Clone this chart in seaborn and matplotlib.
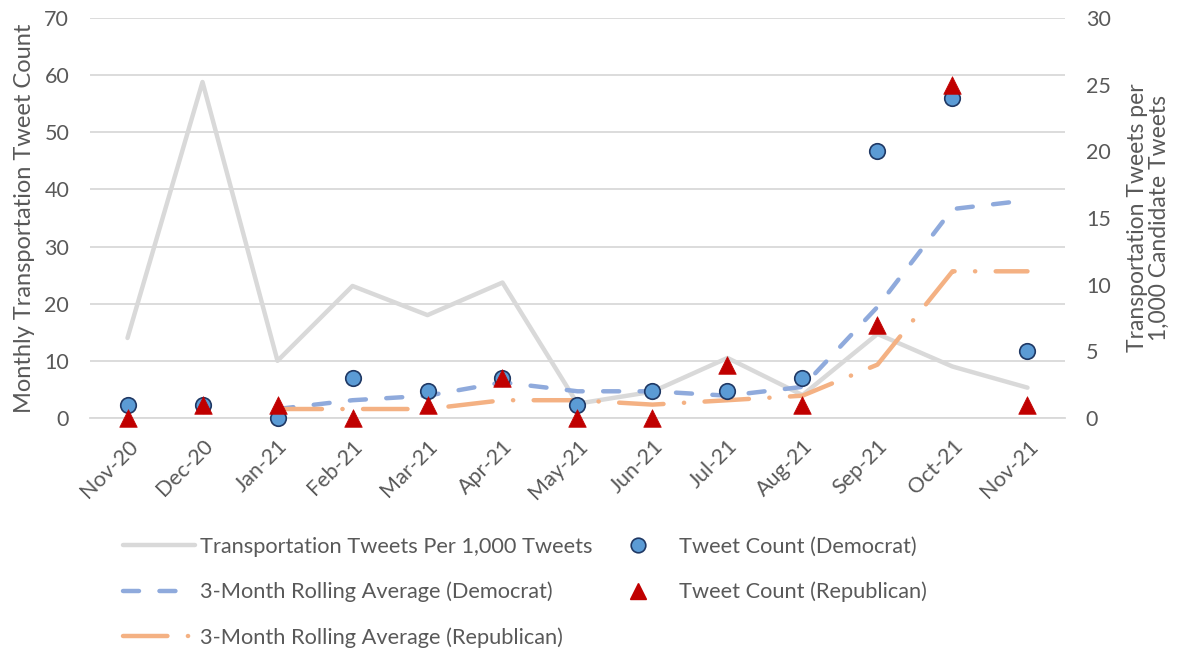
import numpy as np
import pandas as pd
import matplotlib
matplotlib.use("Agg")
import matplotlib.pyplot as plt
from matplotlib.lines import Line2D
import seaborn as sns

months = ["Nov-20", "Dec-20", "Jan-21", "Feb-21", "Mar-21", "Apr-21", "May-21",
          "Jun-21", "Jul-21", "Aug-21", "Sep-21", "Oct-21", "Nov-21"]

# Transportation tweets per 1,000 tweets (left axis)
per_thousand = [14.0, 58.8, 10.0, 23.1, 18.0, 23.7, 2.5, 4.6, 10.5, 4.0, 14.7, 9.0, 5.3]

# Monthly tweet counts by party (right axis)
dem_count = [1, 1, 0, 3, 2, 3, 1, 2, 2, 3, 20, 24, 5]
rep_count = [0, 1, 1, 0, 1, 3, 0, 0, 4, 1, 7, 25, 1]

# 3-month rolling averages (right axis)
dem_roll = [np.nan, np.nan, 0.67, 1.33, 1.67, 2.67, 2.0, 2.0, 1.67, 2.33, 8.33, 15.67, 16.33]
rep_roll = [np.nan, np.nan, 0.67, 0.67, 0.67, 1.33, 1.33, 1.0, 1.33, 1.67, 4.0, 11.0, 11.0]

left_ticks = [0, 10, 20, 30, 40, 50, 60, 70]
right_ticks = [0, 5, 10, 15, 20, 25, 30]

labels = ["Transportation Tweets Per 1,000 Tweets",
          "3-Month Rolling Average (Democrat)",
          "3-Month Rolling Average (Republican)",
          "Tweet Count (Democrat)",
          "Tweet Count (Republican)"]

GRAY = "#D9D9D9"
BLUE_DASH = "#8FAADC"
ORANGE_DASH = "#F4B183"
DEM_FILL = "#5B9BD5"
DEM_EDGE = "#1F3864"
REP_RED = "#C00000"
TEXT = "#595959"

sns.set_theme(style="white")
plt.rcParams["font.family"] = ["Lato", "DejaVu Sans"]
plt.rcParams["text.color"] = TEXT
plt.rcParams["axes.labelcolor"] = TEXT
plt.rcParams["xtick.color"] = TEXT
plt.rcParams["ytick.color"] = TEXT

pos = np.arange(len(months))
df = pd.DataFrame({
    "pos": pos, "per_thousand": per_thousand,
    "dem_count": dem_count, "rep_count": rep_count,
    "dem_roll": dem_roll, "rep_roll": rep_roll,
})

fig = plt.figure(figsize=(11.89, 6.5), dpi=100)
ax = fig.add_axes([0.0757, 0.357, 0.82, 0.6153])
ax2 = ax.twinx()

LW = 3.2
DEM_DASHES = (3.6, 4.6)
REP_DASHES = (10.0, 4.6, 0.05, 4.6)

sns.lineplot(data=df, x="pos", y="per_thousand", ax=ax, color=GRAY, lw=LW,
             solid_capstyle="round", solid_joinstyle="round", legend=False)

sns.lineplot(data=df, x="pos", y="dem_roll", ax=ax2, color=BLUE_DASH, lw=LW,
             dashes=False, legend=False)
sns.lineplot(data=df, x="pos", y="rep_roll", ax=ax2, color=ORANGE_DASH, lw=LW,
             dashes=False, legend=False)
dem_line, rep_line = ax2.lines[0], ax2.lines[1]
dem_line.set_dashes(DEM_DASHES)
dem_line.set_dash_capstyle("round")
rep_line.set_dashes(REP_DASHES)
rep_line.set_dash_capstyle("round")

sns.scatterplot(data=df, x="pos", y="dem_count", ax=ax2, marker="o", s=125,
                color=DEM_FILL, edgecolor=DEM_EDGE, linewidth=1.2, zorder=4,
                legend=False)
sns.scatterplot(data=df, x="pos", y="rep_count", ax=ax2, marker="^", s=160,
                color=REP_RED, edgecolor=REP_RED, linewidth=0.5, zorder=5,
                legend=False)
for coll in ax2.collections:
    coll.set_clip_on(False)

# axes ranges and ticks
ax.set_xlim(-0.5, len(months) - 0.5)
ax.set_ylim(0, 70)
ax2.set_ylim(0, 30)
ax.set_yticks(left_ticks)
ax2.set_yticks(right_ticks)
ax.set_xticks(pos)
ax.set_xticklabels(months, rotation=45, ha="right", rotation_mode="anchor")
ax.set_xticks(np.arange(len(months) + 1) - 0.5, minor=True)

ax.tick_params(axis="x", which="major", length=0, pad=13, labelsize=15.5)
ax.tick_params(axis="x", which="minor", length=7, width=1.3, color=GRAY)
ax.tick_params(axis="y", length=0, pad=15, labelsize=15.5)
ax2.tick_params(axis="y", length=0, pad=15, labelsize=15.5)

ax.grid(axis="y", color=GRAY, lw=1.3)
ax.set_axisbelow(True)
for a in (ax, ax2):
    for side in ("left", "right", "top", "bottom"):
        a.spines[side].set_visible(False)
ax.spines["bottom"].set_visible(True)
ax.spines["bottom"].set_color(GRAY)
ax.spines["bottom"].set_linewidth(1.3)

ax.set_xlabel("")
ax2.set_xlabel("")
ax.set_ylabel("Monthly Transportation Tweet Count", fontsize=17, labelpad=7)
ax2.set_ylabel("Transportation Tweets per\n1,000 Candidate Tweets", fontsize=16.5,
               labelpad=12, linespacing=1.0)

# legend in two columns below the plot
h_gray = Line2D([], [], color=GRAY, lw=LW, solid_capstyle="round")
h_dem = Line2D([], [], color=BLUE_DASH, lw=LW, dashes=DEM_DASHES, dash_capstyle="round")
h_rep = Line2D([], [], color=ORANGE_DASH, lw=LW, dashes=REP_DASHES, dash_capstyle="round")
h_dc = Line2D([], [], ls="none", marker="o", markersize=10.5, markerfacecolor=DEM_FILL,
              markeredgecolor=DEM_EDGE, markeredgewidth=1.2)
h_rc = Line2D([], [], ls="none", marker="^", markersize=11.5, markerfacecolor=REP_RED,
              markeredgecolor=REP_RED)

common = dict(frameon=False, fontsize=15.7, handlelength=3.3, handletextpad=0.25,
              labelspacing=1.14, borderpad=0, borderaxespad=0, loc="upper left")
fig.legend([h_gray, h_dem, h_rep], labels[:3],
           bbox_to_anchor=(123 / 1189, 1 - 537 / 650), **common)
fig.legend([h_dc, h_rc], labels[3:],
           bbox_to_anchor=(602 / 1189, 1 - 537 / 650), **common)

fig.savefig("out.png", dpi=100)
